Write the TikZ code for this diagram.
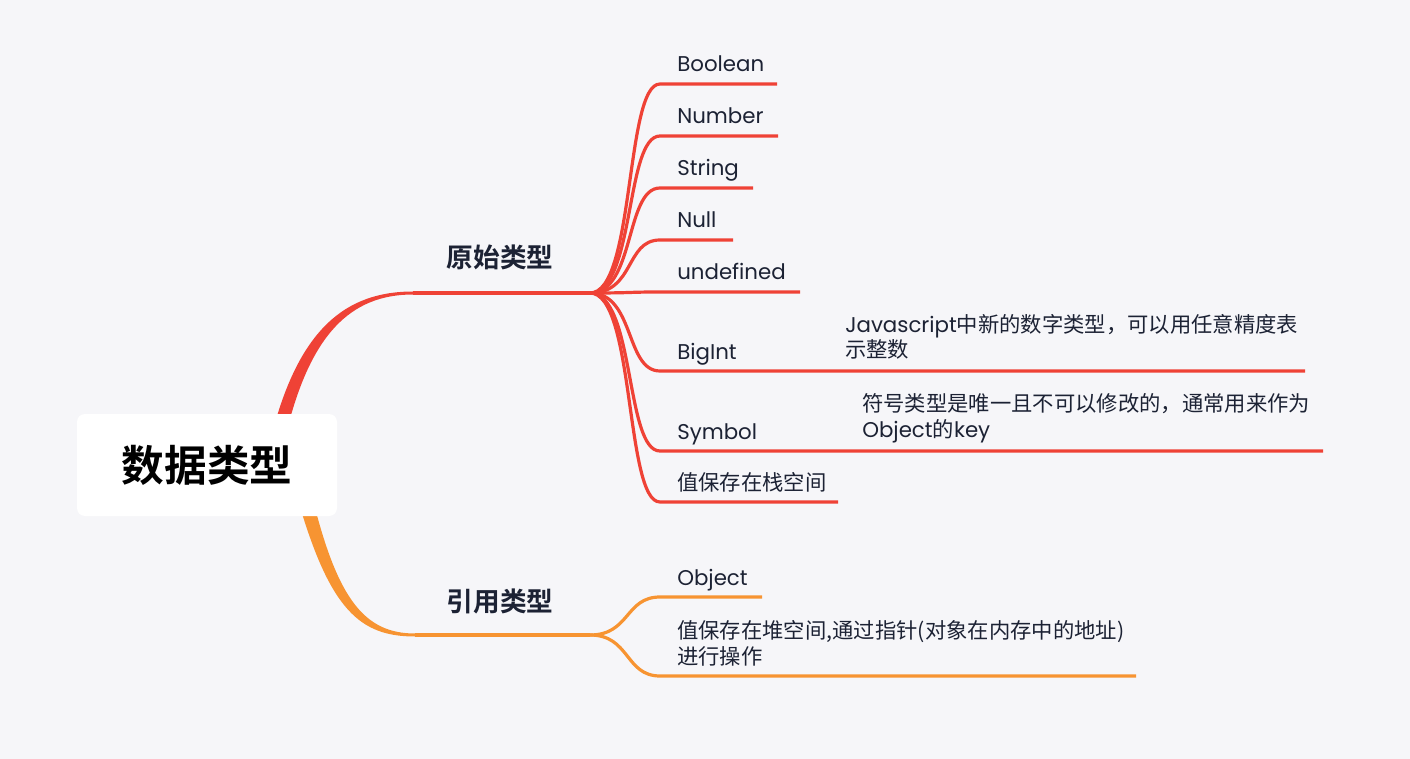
\documentclass[tikz,border=0pt]{standalone}
\usepackage{fontspec}
\setmainfont{Poppins}
\newfontfamily\cjk{Noto Sans CJK SC}[BoldFont={Noto Sans CJK SC Bold}]
\usetikzlibrary{positioning}
\definecolor{bgc}{RGB}{246,246,249}
\definecolor{redc}{RGB}{239,66,54}
\definecolor{orangec}{RGB}{247,148,50}
\definecolor{textc}{RGB}{28,34,52}
\pgfdeclarelayer{bg}
\pgfsetlayers{bg,main}
\tikzset{rootbox/.style = {fill=white, rounded corners=6pt,
                           minimum width=195pt, minimum height=76.5pt,
                           font={\cjk\bfseries\fontsize{32}{38}\selectfont}}}
\tikzset{branchlabel/.style = {text=textc, anchor=base, inner sep=0pt,
                               font={\cjk\bfseries\fontsize{20}{24}\selectfont}}}
\tikzset{leaf/.style = {text=textc, anchor=base west, inner sep=0pt,
                        font={\fontsize{16}{19.5}\selectfont}}}
\tikzset{note/.style = {leaf, align=left}}
\tikzset{redline/.style = {draw=redc, line width=2.4pt}}
\tikzset{orangeline/.style = {draw=orangec, line width=2.4pt}}

\begin{document}
\begin{tikzpicture}[x=0.75pt, y=-0.75pt]
    \useasboundingbox (0,0) rectangle (1410,759);
    \node [rootbox] (root) at (207,465) {数据类型};

    \begin{pgfonlayer}{bg}
    \fill [bgc] (0,0) rectangle (1410,759);
    \coordinate (primknee) at (413,293);
    \coordinate (primhub) at (590,293);
    \coordinate (refknee) at (415,635);
    \coordinate (refhub) at (590,635);
    \fill [redc] (273,430) .. controls (300,330) and (345,291.5) .. (413,291.5)
        -- (413,294.5) .. controls (350,294.5) and (311,335) .. (287,430) -- cycle;
    \fill [orangec] (298,500) .. controls (330,610) and (360,636.5) .. (415,636.5)
        -- (415,633.5) .. controls (365,633.5) and (338,600) .. (313,500) -- cycle;
    \draw [redline] (primknee) -- (primhub);
    \draw [orangeline] (refknee) -- (refhub);
    \end{pgfonlayer}

    \node [branchlabel] (prim) at (500,268) {原始类型};
    \node [branchlabel] (ref) at (500,611) {引用类型};

    \foreach \nm/\yy/\xe/\txt in {boolean/84/777/Boolean, number/136/778/Number,
        string/188/753/String, null/240/733/Null, undef/292/800/undefined,
        bigint/371/1305/BigInt, symbol/451/1323/Symbol,
        stack/502/838/{\cjk 值保存在栈空间}} {
      \coordinate (\nm-s) at (660,\yy);
      \coordinate (\nm-e) at (\xe,\yy);
      \node [leaf] (\nm) at (677,\yy-12) {\txt};
      \draw [redline] (primhub) .. controls +(45,0) and +(-35,0) .. (\nm-s) -- (\nm-e);
    }

    \foreach \nm/\yy/\xe in {object/597/762, heap/676/1136} {
      \coordinate (\nm-s) at (660,\yy);
      \coordinate (\nm-e) at (\xe,\yy);
      \draw [orangeline] (refhub) .. controls +(40,0) and +(-35,0) .. (\nm-s) -- (\nm-e);
    }
    \node [leaf] (object) at (677,585) {Object};

    \node [note] (bigintnote) at (845,358) {Javascript{\cjk 中新的数字类型，可以用任意精度表}\\{\cjk 示整数}};
    \node [note] (symbolnote) at (862,437) {{\cjk 符号类型是唯一且不可以修改的，通常用来作为}\\Object{\cjk 的}key};
    \node [note] (heap) at (677,664) {{\cjk 值保存在堆空间,通过指针(对象在内存中的地址)}\\{\cjk 进行操作}};
\end{tikzpicture}
\end{document}
